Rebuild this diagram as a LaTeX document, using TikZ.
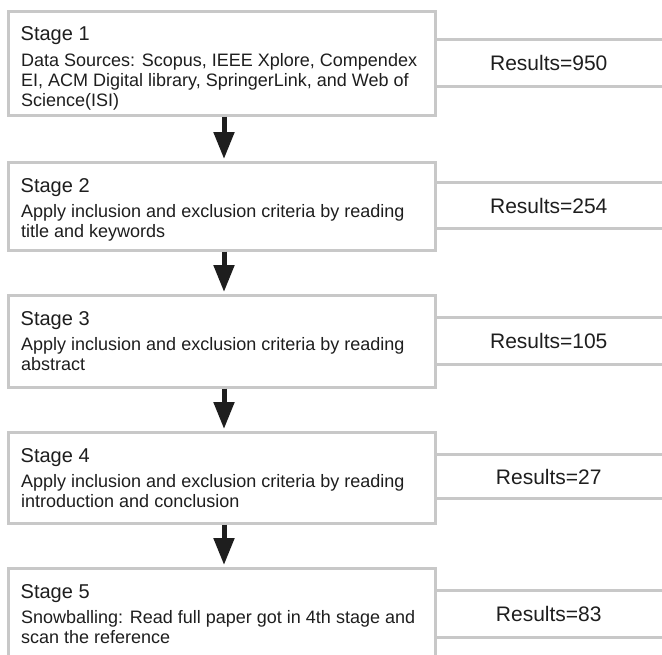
\documentclass[tikz,border=0pt]{standalone}
\usepackage{fontspec}
\setmainfont{Liberation Sans}
\usetikzlibrary{arrows.meta}
\definecolor{boxgray}{RGB}{200,200,200}
\definecolor{ink}{RGB}{30,30,30}
\tikzset{
  stagebox/.style={draw=boxgray, line width=3pt, fill=white, inner sep=0pt, minimum width=427pt},
  resbox/.style={inner sep=0pt, minimum width=226.5pt, text=ink, font=\fontsize{21}{24}\selectfont},
  resline/.style={draw=boxgray, line width=2.8pt},
  titletext/.style={anchor=base west, inner sep=0pt, text=ink, font=\fontsize{20}{24}\selectfont},
  bodytext/.style={anchor=base west, inner sep=0pt, text=ink, align=left, font=\fontsize{18}{20}\selectfont},
  flowarrow/.style={draw=ink, line width=5pt, -{Triangle[width=20pt,length=27pt]}, shorten >=1.5pt}
}
\begin{document}
\begin{tikzpicture}[x=1pt,y=-1pt]
\clip (0,0) rectangle (662,654);
\fill[white] (0,0) rectangle (662,654);
% stage boxes
\node[stagebox, minimum height=104pt] (s1) at (222,63) {};
\node[stagebox, minimum height=88pt] (s2) at (222,206) {};
\node[stagebox, minimum height=92pt] (s3) at (222,341) {};
\node[stagebox, minimum height=91pt] (s4) at (222,477.5) {};
\node[stagebox, minimum height=132pt] (s5) at (222,634) {};
% titles
\node[titletext] (t1) at (20.5,40) {Stage 1};
\node[titletext] (t2) at (20.5,192) {Stage 2};
\node[titletext] (t3) at (20.5,325) {Stage 3};
\node[titletext] (t4) at (20.5,462) {Stage 4};
\node[titletext] (t5) at (20.5,598) {Stage 5};
% bodies (anchored at the baseline of their last line)
\node[bodytext] (d1) at (21,106) {Data Sources: Scopus, IEEE Xplore, Compendex\\EI, ACM Digital library, SpringerLink, and Web of\\Science(ISI)};
\node[bodytext] (d2) at (21,237) {Apply inclusion and exclusion criteria by reading\\title and keywords};
\node[bodytext] (d3) at (21,370) {Apply inclusion and exclusion criteria by reading\\abstract};
\node[bodytext] (d4) at (21,507) {Apply inclusion and exclusion criteria by reading\\introduction and conclusion};
\node[bodytext] (d5) at (21,643) {Snowballing: Read full paper got in 4th stage and\\scan the reference};
% results
\node[resbox, minimum height=46pt] (r1) at (548.75,63) {Results=950};
\node[resbox, minimum height=45pt] (r2) at (548.75,205.5) {Results=254};
\node[resbox, minimum height=46pt] (r3) at (548.75,341) {Results=105};
\node[resbox, minimum height=43pt] (r4) at (548.75,476.5) {Results=27};
\node[resbox, minimum height=46pt] (r5) at (548.75,614) {Results=83};
\foreach \r in {r1,r2,r3,r4,r5}{
  \draw[resline] (\r.north west) -- (\r.north east);
  \draw[resline] (\r.south west) -- (\r.south east);
}
% arrows
\draw[flowarrow] ([xshift=2pt]s1.south) -- ([xshift=2pt]s2.north);
\draw[flowarrow] ([xshift=2pt]s2.south) -- ([xshift=2pt]s3.north);
\draw[flowarrow] ([xshift=2pt]s3.south) -- ([xshift=2pt]s4.north);
\draw[flowarrow] ([xshift=2pt]s4.south) -- ([xshift=2pt]s5.north);
\end{tikzpicture}
\end{document}
